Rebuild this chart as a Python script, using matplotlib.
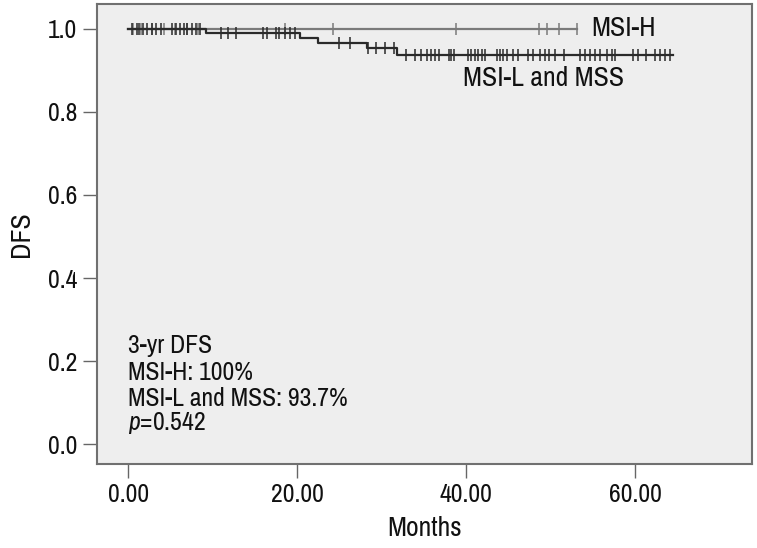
import matplotlib
matplotlib.use("Agg")
import matplotlib.pyplot as plt
from matplotlib import font_manager as fm
import numpy as np

# ---- data ----
# MSI-H: no events, survival stays at 1.0
msih_times = [0.0, 53.1]
msih_surv = [1.0, 1.0]
msih_censor = [0.6, 1.5, 2.8, 4.2, 5.5, 7.0, 8.3, 18.5, 24.2, 38.8, 48.6, 49.6, 51.0, 53.1]

# MSI-L and MSS: step times (events) and survival after each step
msl_times = [0.0, 9.2, 20.3, 22.4, 28.3, 31.8, 64.5]
msl_surv = [1.0, 0.990, 0.978, 0.967, 0.953, 0.937, 0.937]
msl_censor = [0.4, 1.0, 1.3, 1.7, 2.2, 2.8, 3.3, 3.9, 5.2, 5.6, 6.1, 6.6, 7.0, 7.6, 8.0, 8.5,
              11.0, 11.8, 12.8, 16.0, 16.4, 17.5, 17.9, 18.5, 19.1, 19.7,
              24.9, 26.2,
              28.4, 29.3, 30.4, 31.5,
              32.9, 33.9, 34.7, 35.3, 35.8, 36.3, 36.8, 38.0, 38.2, 38.5,
              40.2, 40.6, 41.0, 41.4, 41.8, 42.2, 43.6, 44.0, 44.4, 44.8,
              45.5, 46.1, 47.3, 47.9, 48.7, 49.3, 49.8, 50.5, 51.5,
              53.4, 54.1, 54.6, 55.2, 55.8, 56.6, 57.2, 57.6,
              59.7, 60.3, 61.3, 62.3, 62.9, 63.5, 64.1]

xticks = [0, 20, 40, 60]
xticklabels = ["0.00", "20.00", "40.00", "60.00"]
yticks = [0.0, 0.2, 0.4, 0.6, 0.8, 1.0]
yticklabels = ["0.0", "0.2", "0.4", "0.6", "0.8", "1.0"]

# ---- pick a condensed font if one is installed ----
cond_family = None
cond_stretch = 'normal'
for f in fm.fontManager.ttflist:
    nm = f.name
    if any(k in nm for k in ('Narrow', 'Condensed')):
        cond_family = nm
        break
if cond_family is None:
    for f in fm.fontManager.ttflist:
        st = f.stretch
        if (isinstance(st, str) and 'condensed' in st) or (isinstance(st, (int, float)) and st < 500):
            cond_family = f.name
            cond_stretch = 'condensed'
            break

if cond_family is not None:
    plt.rcParams['font.family'] = [cond_family, 'DejaVu Sans']
    plt.rcParams['font.stretch'] = cond_stretch
    plt.rcParams['mathtext.fontset'] = 'custom'
    plt.rcParams['mathtext.rm'] = cond_family
    plt.rcParams['mathtext.it'] = cond_family + ':italic'
    fs_tick, fs_lab, fs_ann = 18.5, 20, 18.5
else:
    plt.rcParams['font.family'] = ['DejaVu Sans']
    fs_tick, fs_lab, fs_ann = 15, 15.5, 14

fig = plt.figure(figsize=(7.57, 5.48), dpi=100)
ax = fig.add_axes([0.128, 0.1533, 0.8654, 0.8394])
ax.set_facecolor('#eeeeee')


def surv_at(times, surv, t):
    idx = np.searchsorted(times, t, side='right') - 1
    return np.asarray(surv)[idx]


ax.step(msih_times, msih_surv, where='post', color='#7a7a7a', lw=1.6, zorder=2)
ax.plot(msih_censor, surv_at(msih_times, msih_surv, msih_censor), ls='none',
        marker='|', ms=8, mew=1.1, color='#7a7a7a', zorder=2)

ax.step(msl_times, msl_surv, where='post', color='#2a2a2a', lw=1.6, zorder=3)
ax.plot(msl_censor, surv_at(msl_times, msl_surv, msl_censor), ls='none',
        marker='|', ms=8, mew=1.1, color='#2a2a2a', zorder=3)

ax.set_xlim(-3.7, 73.8)
ax.set_ylim(-0.048, 1.06)
ax.set_xticks(xticks)
ax.set_xticklabels(xticklabels)
ax.set_yticks(yticks)
ax.set_yticklabels(yticklabels)
ax.tick_params(axis='both', direction='out', length=10, width=1.0, color='#666666',
               labelsize=fs_tick, labelcolor='#111111', pad=4)
for s in ax.spines.values():
    s.set_color('#707070')
    s.set_linewidth(1.5)

ax.set_xlabel('Months', fontsize=fs_lab, color='#111111', labelpad=7)
ax.set_ylabel('DFS', fontsize=fs_lab, color='#111111', labelpad=10)

ax.text(54.8, 1.0, 'MSI-H', fontsize=fs_lab, color='#111111', va='center', ha='left')
ax.text(39.6, 0.88, 'MSI-L and MSS', fontsize=fs_lab, color='#111111', va='center', ha='left')

ax.text(0.0, 0.237, '3-yr DFS', fontsize=fs_ann, color='#111111', va='center')
ax.text(0.0, 0.172, 'MSI-H: 100%', fontsize=fs_ann, color='#111111', va='center')
ax.text(0.0, 0.110, 'MSI-L and MSS: 93.7%', fontsize=fs_ann, color='#111111', va='center')
ax.text(0.0, 0.050, r'$p$=0.542', fontsize=fs_ann, color='#111111', va='center')

fig.savefig('out.png', dpi=100)
